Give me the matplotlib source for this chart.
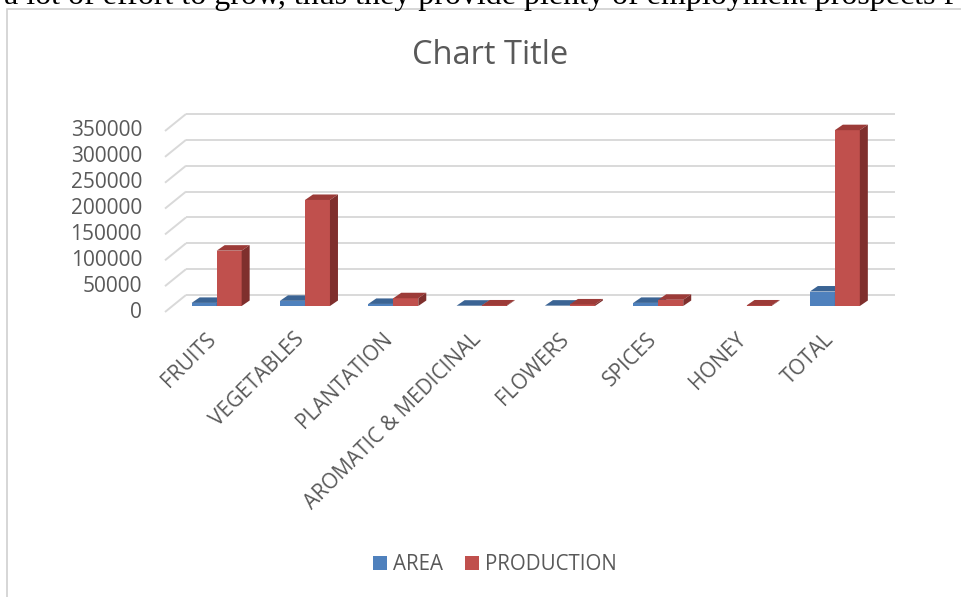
import matplotlib
matplotlib.use("Agg")
import matplotlib.pyplot as plt
from matplotlib.patches import Polygon, Patch, Rectangle
import matplotlib.transforms as mtransforms

categories = ["FRUITS", "VEGETABLES", "PLANTATION", "AROMATIC & MEDICINAL",
              "FLOWERS", "SPICES", "HONEY", "TOTAL"]
area = [6000, 10000, 4000, 600, 700, 6000, 0, 28000]
production = [107000, 205000, 15000, 1000, 3000, 12000, 1000, 340000]
yticks = [0, 50000, 100000, 150000, 200000, 250000, 300000, 350000]
series_names = ["AREA", "PRODUCTION"]

W, H = 961, 597
fig = plt.figure(figsize=(W / 100, H / 100), dpi=100)
fig.patch.set_facecolor("white")

FONT = "Open Sans"
TXT = "#595959"
GRID = "#D9D9D9"

# chart border
fig.patches.append(Rectangle((7 / W, -0.05), 1.2, 1 - 9 / H + 0.05,
                             transform=fig.transFigure, fill=False,
                             edgecolor="#D0D0D0", linewidth=1.2))
# cut-off document text above
fig.text(4 / W, 1 - 4 / H,
         "a lot of effort to grow, thus they provide plenty of employment prospects f",
         family="Liberation Serif", size=23, color="black", ha="left", va="baseline")

# axes: front plane of bars
x0p, x1p = 172.5, 879.0
y0p, ytp = 306.0, 125.0
ax = fig.add_axes([x0p / W, 1 - y0p / H, (x1p - x0p) / W, (y0p - ytp) / H])
ax.set_xlim(-0.5, 7.5)
ax.set_ylim(0, 350000)
ax.axis("off")

PXX = (x1p - x0p) / 8.0
PXY = (y0p - ytp) / 350000.0

def dx(p):
    return p / PXX

def dy(p):
    return p / PXY

# walls
bdx, bdy = dx(13.5), dy(11)
fdx, fdy = dx(-7.5), dy(-6)
xr = (895 - x0p) / PXX - 0.5
for v in yticks:
    ax.plot([-0.5 + fdx, -0.5 + bdx], [v + fdy, v + bdy], color=GRID, lw=1.4,
            clip_on=False, zorder=1, solid_capstyle="butt")
    ax.plot([-0.5 + bdx, xr], [v + bdy, v + bdy], color=GRID, lw=1.4,
            clip_on=False, zorder=1, solid_capstyle="butt")
    ax.text(-0.5 + dx(142 - x0p), v + fdy, f"{v}", ha="right", va="center",
            family=FONT, size=15, color=TXT, clip_on=False)

# bars
bw = 25 / PXX
ddx, ddy = dx(8), dy(5.5)
styles = [("#4F81BD", "#3B6494", "#385D8A"), ("#C0504D", "#9C3B38", "#7F2F2D")]
for s, vals in enumerate([area, production]):
    front, top, side = styles[s]
    offs = -bw / 2 if s == 0 else bw / 2
    xs = [i + offs for i in range(len(vals))]
    ax.bar(xs, vals, width=bw, color=front, zorder=3 + s, clip_on=False)
    for x, h in zip(xs, vals):
        if h <= 0:
            continue
        a, b = x - bw / 2, x + bw / 2
        ax.add_patch(Polygon([(a, h), (b, h), (b + ddx, h + ddy), (a + ddx, h + ddy)],
                             closed=True, facecolor=top, edgecolor="none",
                             zorder=3 + s, clip_on=False))
        ax.add_patch(Polygon([(b, 0), (b, h), (b + ddx, h + ddy), (b + ddx, ddy)],
                             closed=True, facecolor=side, edgecolor="none",
                             zorder=3 + s, clip_on=False))

# category labels
trans = mtransforms.blended_transform_factory(ax.transData, ax.transAxes)
for i, c in enumerate(categories):
    ax.text(i + dx(-4), -30 / (y0p - ytp), c, rotation=45, rotation_mode="anchor",
            ha="right", va="center", family=FONT, size=15, color=TXT,
            transform=trans, clip_on=False)

# title
fig.text(490 / W, 1 - 55 / H, "Chart Title", ha="center", va="center",
         family=FONT, size=23.5, color=TXT)

# legend
handles = [Patch(facecolor=styles[0][0], label=series_names[0]),
           Patch(facecolor=styles[1][0], label=series_names[1])]
leg = fig.legend(handles=handles, loc="center", bbox_to_anchor=(495 / W, 1 - 565 / H),
                 ncol=2, frameon=False, handlelength=0.64, handleheight=0.64,
                 handletextpad=0.3, columnspacing=1.1,
                 prop={"family": FONT, "size": 14.8})
for t in leg.get_texts():
    t.set_color(TXT)

fig.savefig("out.png", dpi=100, facecolor="white")
